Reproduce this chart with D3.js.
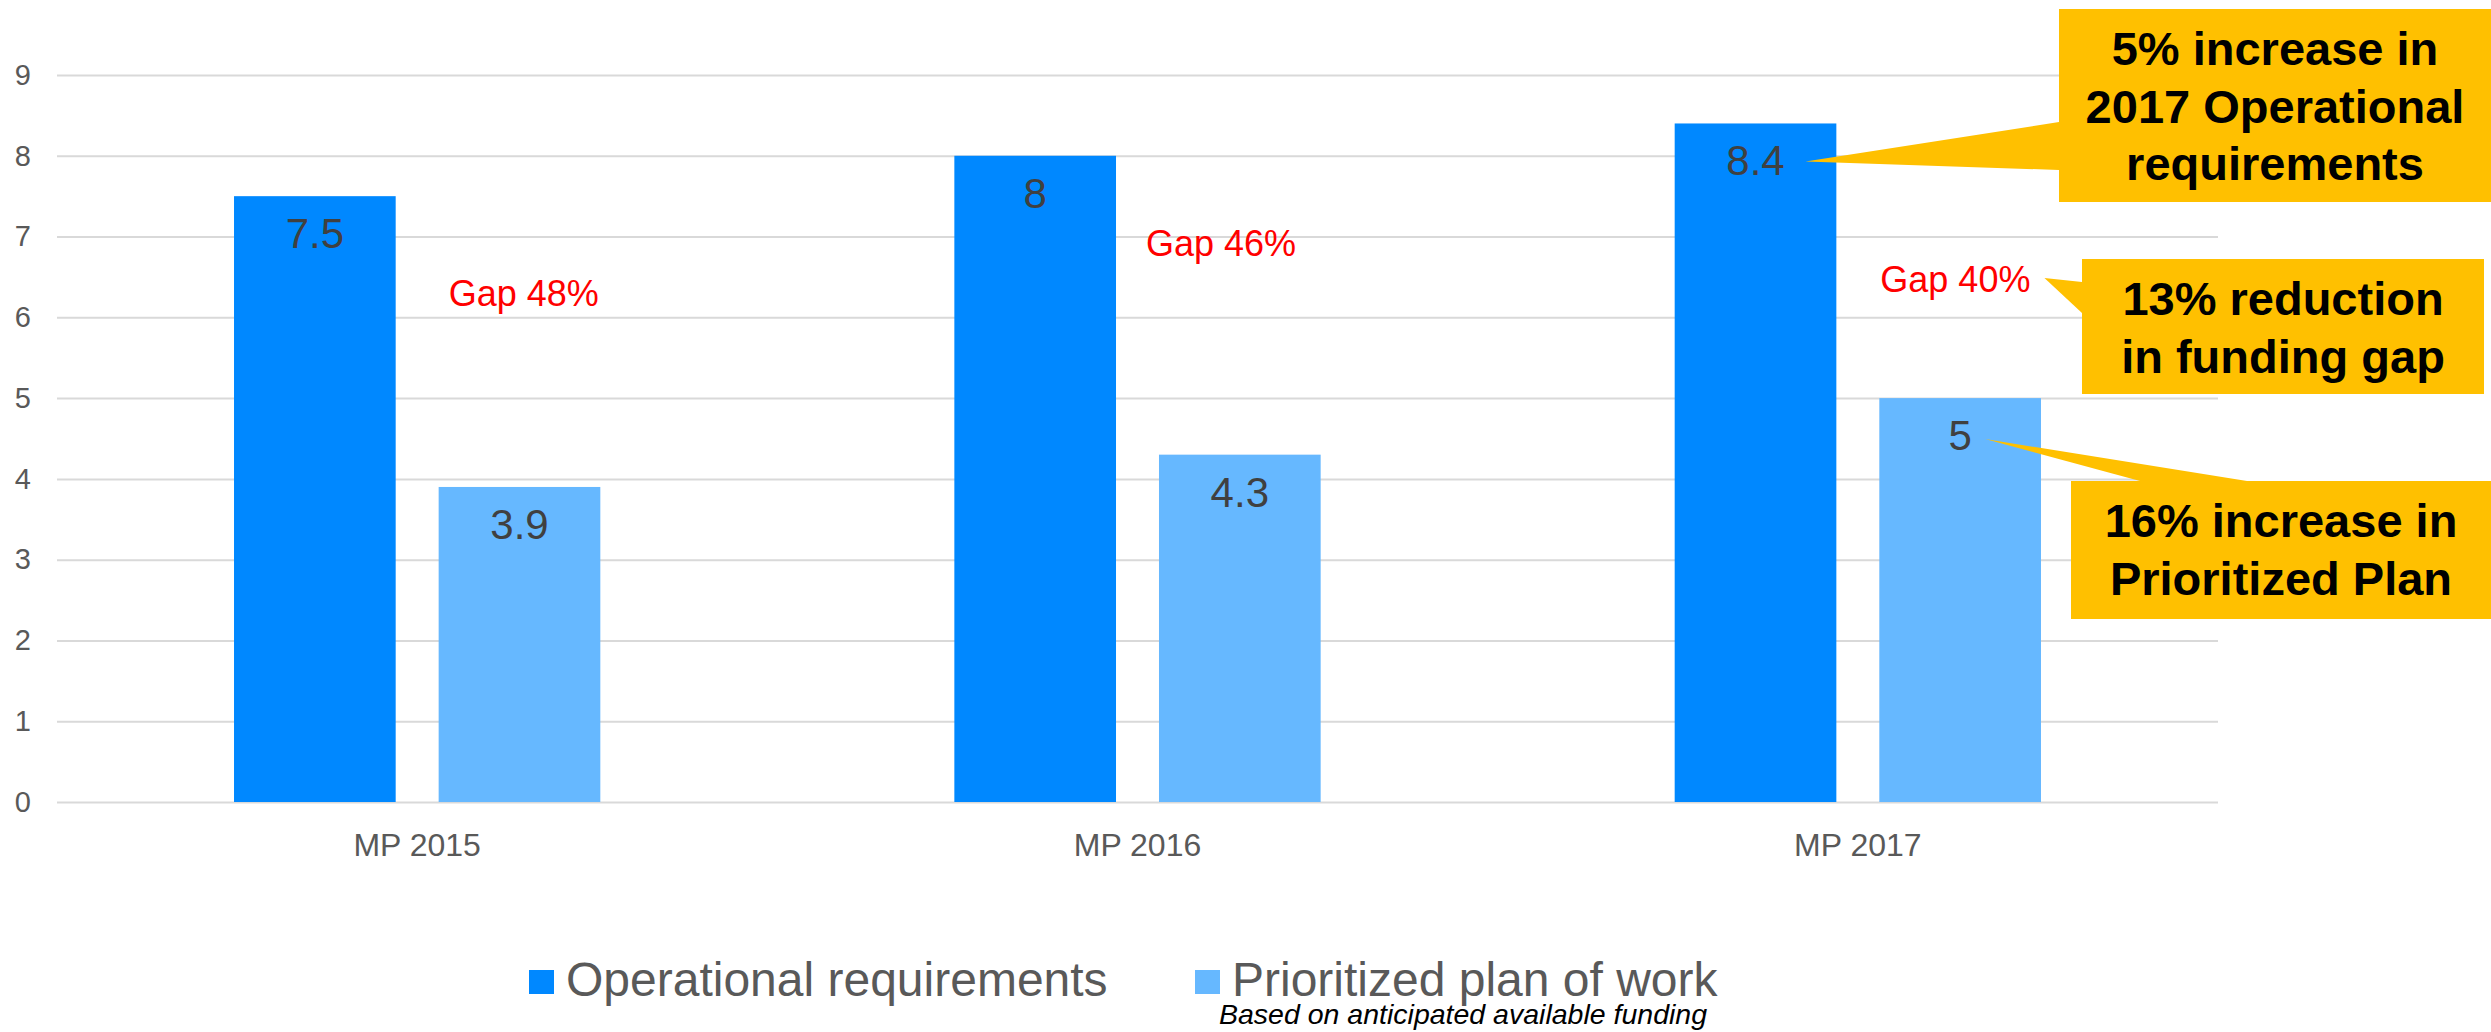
<!DOCTYPE html>
<html>
<head>
<meta charset="utf-8">
<script src="https://cdn.jsdelivr.net/npm/d3@7"></script>
<style>
  body { margin: 0; background: #fff; }
  svg { display: block; font-family: "Liberation Sans", Arial, sans-serif; }
</style>
</head>
<body>
<svg id="chart" width="2491" height="1032"></svg>
<script>
// --- data ---
const categories = ["MP 2015", "MP 2016", "MP 2017"];
const seriesNames = ["Operational requirements", "Prioritized plan of work"];
const operational = [7.5, 8, 8.4];
const prioritized = [3.9, 4.3, 5];
const gapLabels = ["Gap 48%", "Gap 46%", "Gap 40%"];
const yTicks = [0, 1, 2, 3, 4, 5, 6, 7, 8, 9];
const calloutTexts = [
    ["5% increase in", "2017 Operational", "requirements"],
    ["13% reduction", "in funding gap"],
    ["16% increase in", "Prioritized Plan"]
];
const legendNote = "Based on anticipated available funding";

const colors = ["#0088FF", "#66B8FF"];
const gold = "#FFC000";

const svg = d3.select("#chart");
const plot = { left: 57, right: 2218, top: 75, bottom: 802 };

const x = d3.scaleBand()
    .domain(categories)
    .range([plot.left, plot.right]);

const xInner = d3.scaleBand()
    .domain(seriesNames)
    .range([0, x.bandwidth()])
    .paddingInner(0.21)
    .paddingOuter(0.865);

const y = d3.scaleLinear()
    .domain([0, 9])
    .range([plot.bottom, plot.top]);

// --- grid + y axis ---
svg.append("g")
    .attr("transform", `translate(${plot.left},0)`)
    .call(d3.axisLeft(y).tickValues(yTicks).tickSize(-(plot.right - plot.left)).tickPadding(26))
    .call(g => g.select(".domain").remove())
    .call(g => g.selectAll(".tick line").attr("stroke", "#D9D9D9").attr("stroke-width", 2))
    .call(g => g.selectAll(".tick text")
        .attr("fill", "#595959")
        .style("font-size", "29px")
        .style("font-family", "'Liberation Sans', Arial, sans-serif"));

// --- x axis labels ---
svg.append("g")
    .attr("transform", `translate(0,${plot.bottom})`)
    .call(d3.axisBottom(x).tickSize(0).tickPadding(31))
    .call(g => g.select(".domain").remove())
    .call(g => g.selectAll(".tick text")
        .attr("fill", "#595959")
        .style("font-size", "32px")
        .style("font-family", "'Liberation Sans', Arial, sans-serif"));

// --- bars ---
const rows = categories.map((c, i) => ({
    cat: c,
    values: [
        { key: seriesNames[0], value: operational[i] },
        { key: seriesNames[1], value: prioritized[i] }
    ]
}));

const groups = svg.append("g")
    .selectAll("g")
    .data(rows)
    .join("g")
    .attr("transform", d => `translate(${x(d.cat)},0)`);

groups.selectAll("rect")
    .data(d => d.values)
    .join("rect")
    .attr("x", d => xInner(d.key))
    .attr("y", d => y(d.value))
    .attr("width", xInner.bandwidth())
    .attr("height", d => y(0) - y(d.value))
    .attr("fill", (d, i) => colors[i]);

groups.selectAll("text.value")
    .data(d => d.values)
    .join("text")
    .attr("class", "value")
    .attr("x", d => xInner(d.key) + xInner.bandwidth() / 2)
    .attr("y", d => y(d.value) + 52)
    .attr("text-anchor", "middle")
    .attr("fill", "#404040")
    .style("font-size", "42px")
    .text(d => d.value);

// --- gap labels (red) ---
const gapPos = [{ dx: 10, v: 6.14 }, { dx: -13, v: 6.76 }, { dx: 1, v: 6.31 }];
const gapText = svg.append("g")
    .selectAll("text")
    .data(gapLabels)
    .join("text")
    .attr("x", (d, i) => x(categories[i]) + xInner(seriesNames[1]) + gapPos[i].dx)
    .attr("y", (d, i) => y(gapPos[i].v))
    .attr("fill", "#FF0000")
    .style("font-size", "36px")
    .text(d => d);

// --- callouts ---
const last = categories[2];
const darkX = x(last) + xInner(seriesNames[0]) + xInner.bandwidth() / 2;
const lightX = x(last) + xInner(seriesNames[1]) + xInner.bandwidth() / 2;
const gapEnd = gapText.nodes()[2].getBBox();

const callouts = [
    {
        box: [2059, 9, 2491, 202], lines: calloutTexts[0], baselines: [65, 123, 180],
        tip: [darkX + 50, y(operational[2]) + 38], base: [[2059, 122], [2059, 170]]
    },
    {
        box: [2082, 259, 2484, 394], lines: calloutTexts[1], baselines: [315, 373],
        tip: [gapEnd.x + gapEnd.width + 14, 278], base: [[2082, 282], [2082, 313]]
    },
    {
        box: [2071, 481, 2491, 619], lines: calloutTexts[2], baselines: [537, 595],
        tip: [lightX + 25, y(prioritized[2]) + 41], base: [[2247, 481], [2140, 481]]
    }
];

const cg = svg.append("g");
callouts.forEach(c => {
    const [x0, y0, x1, y1] = c.box;
    cg.append("polygon")
        .attr("points", [c.tip, c.base[0], c.base[1]].map(p => p.join(",")).join(" "))
        .attr("fill", gold);
    cg.append("rect")
        .attr("x", x0).attr("y", y0)
        .attr("width", x1 - x0).attr("height", y1 - y0)
        .attr("fill", gold);
    c.lines.forEach((t, i) => {
        cg.append("text")
            .attr("x", (x0 + x1) / 2)
            .attr("y", c.baselines[i])
            .attr("text-anchor", "middle")
            .attr("fill", "#000")
            .style("font-size", "47px")
            .style("font-weight", "bold")
            .text(t);
    });
});

// --- legend ---
const legend = svg.append("g");
const legendX = [529, 1195];
seriesNames.forEach((name, i) => {
    legend.append("rect")
        .attr("x", legendX[i]).attr("y", 970)
        .attr("width", 25).attr("height", 24)
        .attr("fill", colors[i]);
    legend.append("text")
        .attr("x", legendX[i] + 37)
        .attr("y", 996)
        .attr("fill", "#595959")
        .style("font-size", "48px")
        .text(name);
});
legend.append("text")
    .attr("x", 1219)
    .attr("y", 1024)
    .attr("fill", "#000")
    .style("font-size", "28.5px")
    .style("font-style", "italic")
    .text(legendNote);
</script>
</body>
</html>
